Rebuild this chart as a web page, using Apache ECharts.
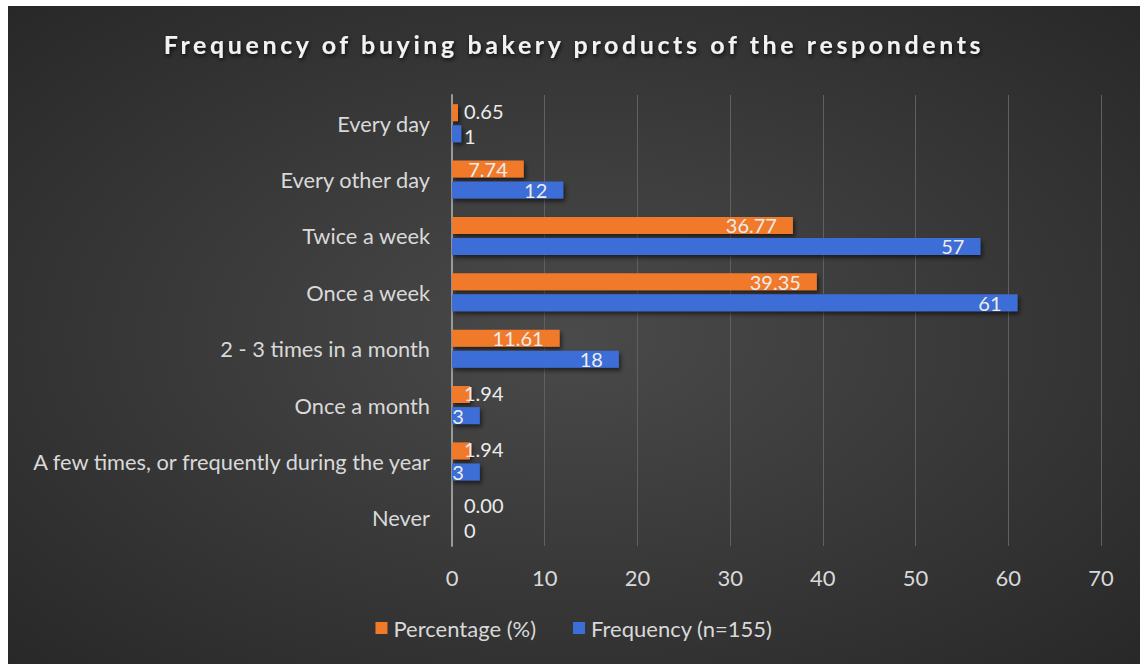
<!DOCTYPE html>
<html>
<head>
<meta charset="utf-8">
<script src="https://cdn.jsdelivr.net/npm/echarts@6/dist/echarts.min.js"></script>
<style>
  html, body { margin: 0; padding: 0; background: #ffffff; }
  #chart { position: absolute; left: 8px; top: 6px; width: 1132px; height: 658px; }
</style>
</head>
<body>
<div id="chart"></div>
<script>
// Survey answers, listed top to bottom
const categories = [
  'Every day',
  'Every other day',
  'Twice a week',
  'Once a week',
  '2 - 3 times in a month',
  'Once a month',
  'A few times, or frequently during the year',
  'Never'
];
const percentage = [0.65, 7.74, 36.77, 39.35, 11.61, 1.94, 1.94, 0.00];
const frequency = [1, 12, 57, 61, 18, 3, 3, 0];
const xTicks = [0, 10, 20, 30, 40, 50, 60, 70];

const TITLE = 'Frequency of buying bakery products of the respondents';
const FONT = 'Lato';
const LABEL_COLOR = '#d9d9d9';
const chart = echarts.init(document.getElementById('chart'), null, { renderer: 'svg' });

// Labels sit inside the bar end; when the bar is too short for its text,
// the label moves to the start of the bar instead (nudged away from its
// neighbour in the pair by dy pixels).
function labelled(values, digits, dy) {
  const pxPerUnit = 649 / 70;
  return values.map(v => {
    const text = v.toFixed(digits);
    const fits = v * pxPerUnit > text.length * 10.5 + 8;
    return {
      value: v,
      label: fits
        ? { position: 'insideRight', distance: 16 }
        : { position: 'insideLeft', distance: 12, offset: [0, dy] }
    };
  });
}

const barShadow = {
  shadowBlur: 4,
  shadowOffsetX: 2,
  shadowOffsetY: 3,
  shadowColor: 'rgba(0,0,0,0.55)'
};

const valueLabel = {
  show: true,
  fontFamily: FONT,
  fontSize: 20,
  lineHeight: 17,
  color: '#ececec'
};

chart.setOption({
  animation: false,
  backgroundColor: {
    type: 'radial', x: 0.5, y: 0.5, r: 0.75,
    colorStops: [
      { offset: 0, color: '#4a4a4a' },
      { offset: 1, color: '#262626' }
    ]
  },
  title: {
    text: TITLE,
    left: 'center',
    top: 20,
    textStyle: {
      fontFamily: FONT,
      fontWeight: 'bold',
      fontSize: 25,
      color: '#f2f2f2',
      textShadowColor: 'rgba(0,0,0,0.8)',
      textShadowBlur: 4,
      textShadowOffsetX: 1,
      textShadowOffsetY: 2
    }
  },
  legend: {
    bottom: 20,
    left: 'center',
    itemWidth: 12,
    itemHeight: 12,
    itemGap: 37,
    icon: 'rect',
    textStyle: { fontFamily: FONT, fontSize: 22, color: LABEL_COLOR, padding: [0, 0, 0, 1] }
  },
  grid: { left: 444, right: 39, top: 89, bottom: 118 },
  xAxis: {
    type: 'value',
    min: xTicks[0],
    max: xTicks[xTicks.length - 1],
    interval: xTicks[1] - xTicks[0],
    axisLine: { show: false },
    axisTick: { show: false },
    axisLabel: { fontFamily: FONT, fontSize: 22, color: LABEL_COLOR, margin: 20 },
    splitLine: { lineStyle: { color: '#606060', width: 1 } }
  },
  yAxis: {
    type: 'category',
    data: categories,
    inverse: true,
    axisLine: { lineStyle: { color: '#9a9a9a', width: 2 } },
    axisTick: { show: false },
    axisLabel: { fontFamily: FONT, fontSize: 21.8, color: LABEL_COLOR, margin: 22 }
  },
  series: [
    {
      name: 'Percentage (%)',
      type: 'bar',
      data: labelled(percentage, 2, -2),
      barWidth: 17,
      barGap: '24%',
      itemStyle: Object.assign({ color: '#f07a2c' }, barShadow),
      label: Object.assign({ formatter: p => p.value.toFixed(2) }, valueLabel)
    },
    {
      name: 'Frequency (n=155)',
      type: 'bar',
      data: labelled(frequency, 0, 2),
      barWidth: 17,
      itemStyle: Object.assign({ color: '#3d6dd6' }, barShadow),
      label: Object.assign({ formatter: p => String(p.value) }, valueLabel)
    }
  ]
});

// Spread the title letters out a little
function spaceTitle() {
  chart.getDom().querySelectorAll('text').forEach(t => {
    if (t.textContent === TITLE) t.style.letterSpacing = '3.6px';
  });
}
spaceTitle();
chart.on('finished', spaceTitle);
</script>
</body>
</html>
